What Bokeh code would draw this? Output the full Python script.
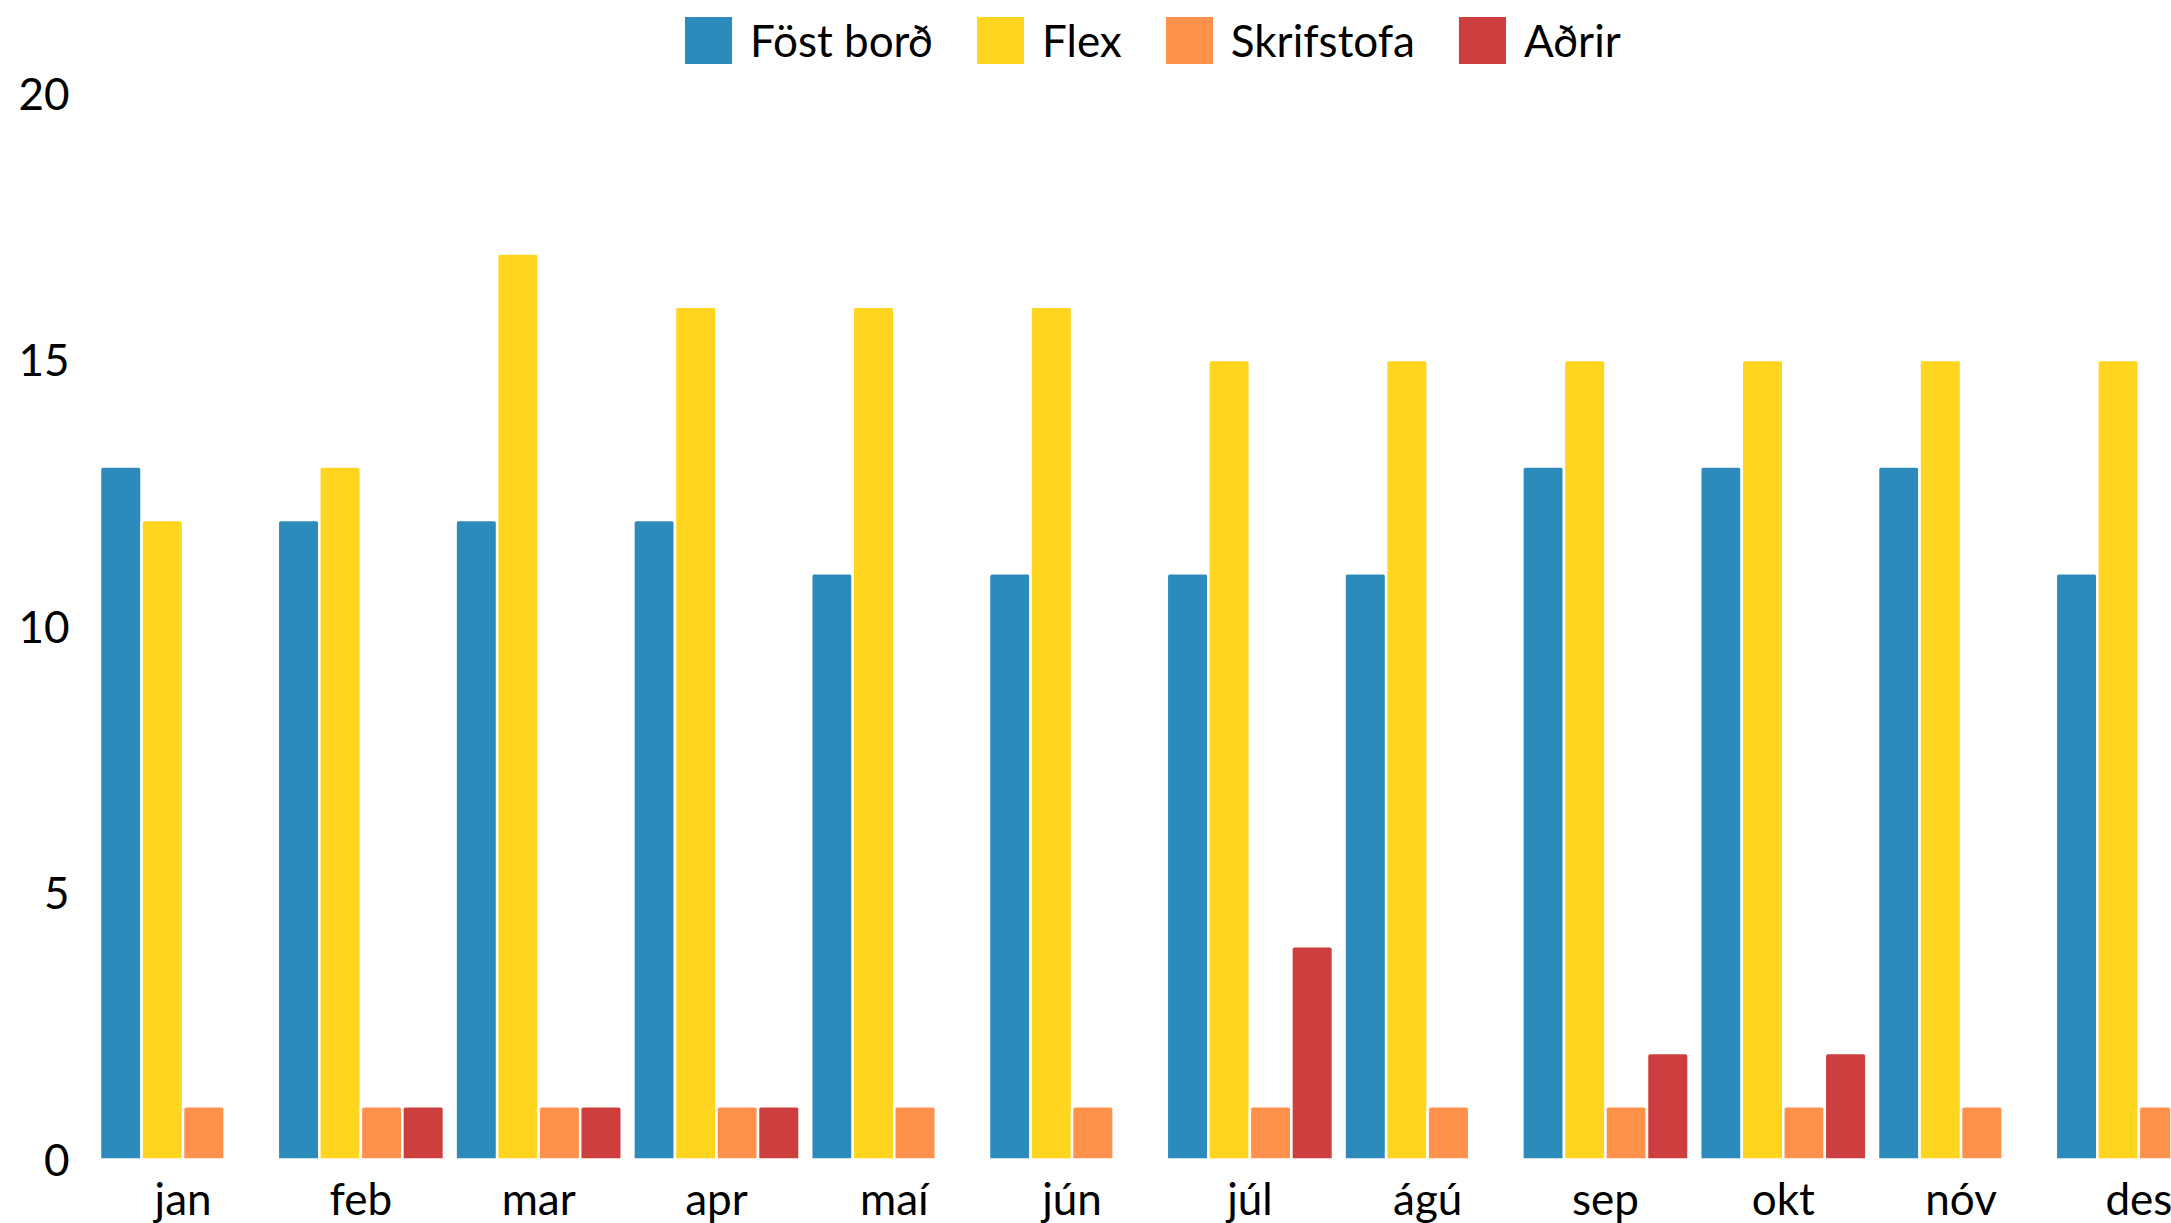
import numpy as np
from bokeh.plotting import figure
from bokeh.models import FixedTicker, Range1d, Legend, LegendItem
from bokeh.core.properties import value
from bokeh.embed import file_html
from bokeh.resources import INLINE

months = ["jan", "feb", "mar", "apr", "maí", "jún", "júl", "ágú", "sep", "okt", "nóv", "des"]
series_names = ["Föst borð", "Flex", "Skrifstofa", "Aðrir"]
fost_bord = [13, 12, 12, 12, 11, 11, 11, 11, 13, 13, 13, 11]
flex = [12, 13, 17, 16, 16, 16, 15, 15, 15, 15, 15, 15]
skrifstofa = [1, 1, 1, 1, 1, 1, 1, 1, 1, 1, 1, 1]
adrir = [0, 1, 1, 1, 0, 0, 4, 0, 2, 2, 0, 0]
colors = ["#2C8BBA", "#FFD51F", "#FF914D", "#CC3F3E"]
y_ticks = [0, 5, 10, 15, 20]

W, H = 2171, 1223
FL = 80            # frame left (canvas px)
ZERO_Y = 1159      # canvas px of y = 0
px_per_group = 177.8
px_per_unit = 53.3
bw = 0.2336
FONT = "Lato"
FS = "44px"

x_start = -2 * bw - (99.5 - FL) / px_per_group
x_end = x_start + (W - FL) / px_per_group
y_start = -(H - ZERO_Y) / px_per_unit
y_end = ZERO_Y / px_per_unit

p = figure(width=W, height=H, output_backend="svg", toolbar_location=None,
           x_range=Range1d(x_start, x_end), y_range=Range1d(y_start, y_end),
           min_border_left=FL, min_border_right=0, min_border_top=0, min_border_bottom=0)
p.outline_line_color = None
p.xgrid.grid_line_color = None
p.ygrid.grid_line_color = None
p.background_fill_color = "white"
p.border_fill_color = "white"
p.xaxis.visible = False

x = np.arange(len(months))
all_series = [fost_bord, flex, skrifstofa, adrir]
renderers = []
for k, (vals, col) in enumerate(zip(all_series, colors)):
    off = (k - 1.5) * bw
    r = p.vbar(x=x + off, top=np.array(vals, dtype=float), width=bw, bottom=0,
               fill_color=col, line_color="white", line_width=2.5,
               border_radius=(3, 3, 0, 0))
    renderers.append(r)

# month labels under each group
label_y = -(1197 - ZERO_Y) / px_per_unit
p.text(x=x, y=[label_y] * len(months), text=months, text_align="center",
       text_baseline="alphabetic", text_font=value(FONT), text_font_size=FS,
       text_color="#000000")

legend = Legend(items=[LegendItem(label=n, renderers=[r]) for n, r in zip(series_names, renderers)],
                orientation="horizontal", location=(597, H - 71))
legend.glyph_width = 62
legend.glyph_height = 62
legend.label_standoff = 11
legend.spacing = 36
legend.padding = 0
legend.margin = 0
legend.border_line_color = None
legend.background_fill_alpha = 0
legend.label_text_font = FONT
legend.label_text_font_size = FS
legend.label_text_color = "#000000"
p.add_layout(legend, "center")

ax = p.yaxis
ax.axis_line_color = None
ax.major_tick_line_color = None
ax.minor_tick_line_color = None
ax.major_label_text_font = FONT
ax.major_label_text_font_size = FS
ax.major_label_text_color = "#000000"
ax.ticker = FixedTicker(ticks=y_ticks)
ax.major_label_standoff = 5

open("out.html", "w").write(file_html(p, INLINE))
